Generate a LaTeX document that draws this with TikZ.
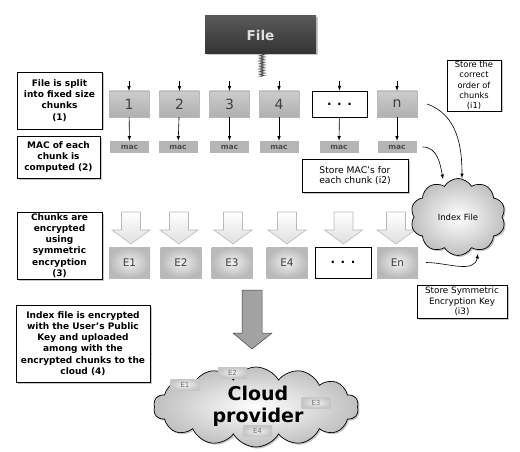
\documentclass[tikz,border=0pt]{standalone}
\usepackage{fontspec}
\setmainfont{DejaVu Sans}
\usetikzlibrary{positioning,shapes.symbols,shadows,decorations.pathmorphing}

\tikzset{
  shade/.style={drop shadow={shadow xshift=1.5pt, shadow yshift=-1.5pt, opacity=.45}},
  stepbox/.style={draw, line width=0.9pt, fill=white, align=center, inner sep=1pt,
    font=\fontsize{9}{11.2}\selectfont\bfseries, shade},
  notebox/.style={draw, line width=0.7pt, fill=white, align=center, inner sep=1pt,
    font=\fontsize{9.2}{10.7}\selectfont, shade},
  chunk/.style={minimum width=40pt, minimum height=26pt, inner sep=0pt, draw=gray!55,
    top color=gray!40, bottom color=gray!62, text=black!75, font=\fontsize{14}{14}\selectfont},
  dotbox/.style={draw, line width=0.8pt, fill=white, minimum height=26pt, inner sep=0pt,
    font=\fontsize{12}{12}\selectfont\bfseries},
  macbox/.style={minimum width=39pt, minimum height=12pt, inner sep=0pt, fill=gray!58,
    text=black!70, font=\fontsize{7.5}{7.5}\selectfont\bfseries},
  encbox/.style={minimum width=41pt, minimum height=31pt, inner sep=0pt,
    inner color=gray!12, outer color=gray!55, text=black!75, font=\fontsize{10.5}{10.5}\selectfont},
  tinyenc/.style={minimum width=29pt, minimum height=11pt, inner sep=0pt,
    inner color=gray!10, outer color=gray!45, text=black!55, font=\fontsize{7}{7}\selectfont},
  hollow/.style={draw=gray!55, line width=0.6pt, top color=white, bottom color=gray!25},
  puff/.style={cloud, cloud puffs=10, cloud puff arc=120, draw, line width=0.7pt,
    inner color=white, outer color=gray!50, inner sep=0pt, shade},
  link/.style={-latex, line width=0.6pt}
}

\begin{document}
\begin{tikzpicture}[x = 1pt, y = -1pt]
    \useasboundingbox (0,0) rectangle (520,452);
    % file to chunks
    \node[minimum width=111pt, minimum height=38pt, top color=gray!70!black, bottom color=black!80,
      text=gray!25, font=\fontsize{13.5}{13.5}\selectfont\bfseries, shade] (file) at (260.5,35) {File};
    \coordinate (cut) at (262,77);
    \draw[decorate, decoration={zigzag, amplitude=2.5pt, segment length=1.6pt}, black!70, line width=0.5pt]
      (file.south -| cut) -- (cut);

    % left column
    \node[stepbox, minimum width=85pt, minimum height=57pt] (split) at (59.5,100.5)
      {File is split\\into fixed size\\chunks\\(1)};
    \node[stepbox, minimum width=83pt, minimum height=42pt] (macstep) at (58.5,157)
      {MAC of each\\chunk is\\computed (2)};
    \node[stepbox, minimum width=85pt, minimum height=67pt] (encstep) at (59.5,245.5)
      {Chunks are\\encrypted\\using\\symmetric\\encryption\\(3)};
    \node[stepbox, minimum width=134pt, minimum height=77pt] (upload) at (83,343.5)
      {Index file is encrypted\\with the User's Public\\Key and uploaded\\among with the\\encrypted chunks to the\\cloud (4)};

    % chunks, macs, encrypted chunks
    \foreach \i/\cx/\mx/\ex/\t in {1/129/129.5/129.5/1, 2/179.5/178/181/2,
        3/229.5/229.5/232/3, 4/279/279/287/4, 6/397/397/397.5/n} {
      \node[chunk] (c\i) at (\cx,104) {\t};
      \node[macbox] (m\i) at (\mx,147) {mac};
      \node[encbox] (e\i) at (\ex,262.5) {E\t};
    }
    \node[dotbox, minimum width=55pt] (c5) at (339.5,104) {. . .};
    \node[macbox] (m5) at (339,147) {mac};
    \node[dotbox, minimum width=56pt, minimum height=31pt] (e5) at (343,262.5) {. . .};
    \foreach \i in {1,...,6} {
      \draw[link] ([yshift=10pt]c\i.north) -- (c\i.north);
      \draw[link] (c\i) -- (m\i);
    }
    % encryption arrows
    \foreach \ax in {131,179,233,287,343.5,396}
      \path[hollow] (\ax-9.5,212) -- (\ax+9.5,212) -- (\ax+9.5,230) -- (\ax+19,230)
        -- (\ax,244) -- (\ax-19,230) -- (\ax-9.5,230) -- cycle;

    % index file
    \node[puff, minimum width=95pt, minimum height=77pt, font=\fontsize{8.5}{8.5}\selectfont] (index)
      at (458,217) {Index File};
    \node[notebox, minimum width=54pt, minimum height=51pt, font=\fontsize{8.3}{10.2}\selectfont] (order)
      at (474,85.5) {Store the\\correct\\order of\\chunks\\(i1)};
    \node[notebox, minimum width=106pt, minimum height=33pt] (storemac) at (355,175.5)
      {Store MAC's for\\each chunk (i2)};
    \node[notebox, minimum width=90pt, minimum height=33pt, font=\fontsize{8.8}{10.7}\selectfont] (storekey)
      at (462,301.5) {Store Symmetric\\Encryption Key\\(i3)};
    \draw[link] ([xshift=10pt]c6.east) to[out=-20, in=90] ([xshift=4pt]index.north);
    \draw[link] ([xshift=6pt]m6.east) to[out=0, in=100] ([xshift=-15pt,yshift=-1pt]index.north);
    \draw[link] ([xshift=8pt]e6.east) to[out=0, in=-100] ([xshift=20pt,yshift=2pt]index.south);

    % upload to the cloud
    \path[draw=gray!50!black, line width=0.5pt, left color=gray!75, middle color=gray!45, right color=gray!70]
      (242,290) -- (262,290) -- (262,333) -- (272,333) -- (252,349) -- (233,333) -- (242,333) -- cycle;
    \node[puff, minimum width=205pt, minimum height=80pt, cloud puffs=14] (cloud) at (256,407) {};
    \node[align=center, font=\fontsize{19}{22}\selectfont\bfseries] (provider) at (258,406) {Cloud\\provider};
    \node[tinyenc] (k1) at (185,384.5) {E1};
    \node[tinyenc] (k2) at (232.5,372.5) {E2};
    \node[tinyenc] (k3) at (316,402.5) {E3};
    \node[tinyenc] (k4) at (257.5,431) {E4};
\end{tikzpicture}
\end{document}
